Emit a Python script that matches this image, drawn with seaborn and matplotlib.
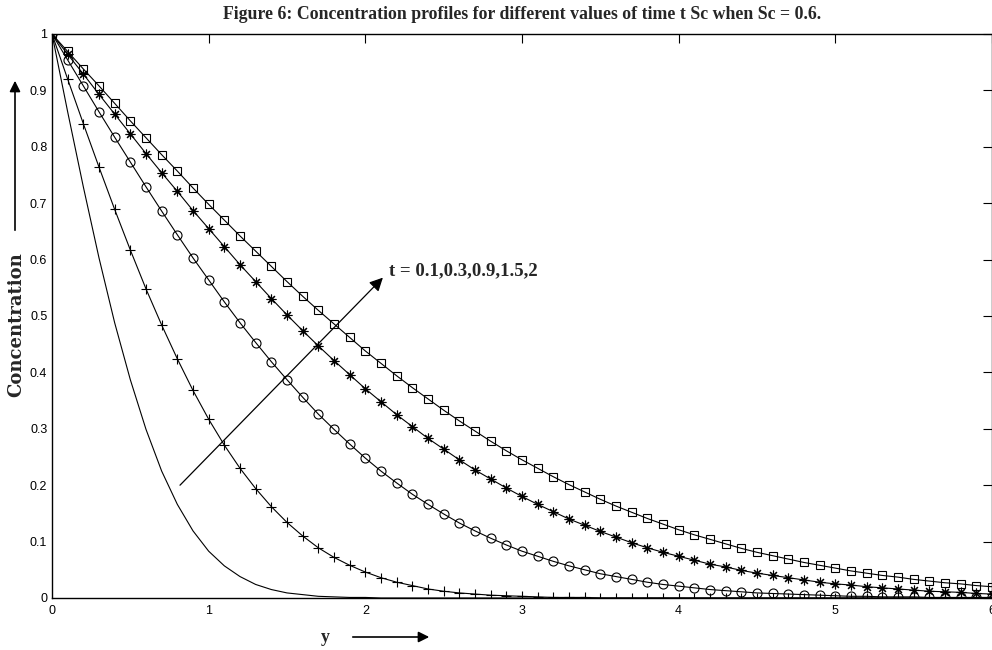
import numpy as np
import pandas as pd
import matplotlib
matplotlib.use("Agg")
import matplotlib.pyplot as plt
import seaborn as sns

# ---------------- data ----------------
y_grid = np.linspace(0, 6, 61)

conc_t01 = [1.000, 0.862, 0.729, 0.603, 0.488, 0.387, 0.299, 0.225, 0.166, 0.119,
            0.083, 0.057, 0.038, 0.024, 0.015, 0.009, 0.006, 0.003, 0.002, 0.001,
            0.001, 0.000, 0.000, 0.000, 0.000, 0.000, 0.000, 0.000, 0.000, 0.000,
            0.000, 0.000, 0.000, 0.000, 0.000, 0.000, 0.000, 0.000, 0.000, 0.000,
            0.000, 0.000, 0.000, 0.000, 0.000, 0.000, 0.000, 0.000, 0.000, 0.000,
            0.000, 0.000, 0.000, 0.000, 0.000, 0.000, 0.000, 0.000, 0.000, 0.000,
            0.000]

conc_t03 = [1.000, 0.920, 0.841, 0.764, 0.689, 0.617, 0.548, 0.484, 0.424, 0.368,
            0.317, 0.271, 0.230, 0.194, 0.162, 0.134, 0.110, 0.089, 0.072, 0.058,
            0.046, 0.036, 0.028, 0.022, 0.016, 0.012, 0.009, 0.007, 0.005, 0.004,
            0.003, 0.002, 0.001, 0.001, 0.001, 0.000, 0.000, 0.000, 0.000, 0.000,
            0.000, 0.000, 0.000, 0.000, 0.000, 0.000, 0.000, 0.000, 0.000, 0.000,
            0.000, 0.000, 0.000, 0.000, 0.000, 0.000, 0.000, 0.000, 0.000, 0.000,
            0.000]

conc_t09 = [1.000, 0.954, 0.908, 0.862, 0.817, 0.773, 0.729, 0.686, 0.644, 0.603,
            0.564, 0.525, 0.488, 0.453, 0.419, 0.387, 0.356, 0.326, 0.299, 0.273,
            0.248, 0.225, 0.204, 0.184, 0.166, 0.149, 0.133, 0.119, 0.106, 0.094,
            0.083, 0.074, 0.065, 0.057, 0.050, 0.043, 0.038, 0.033, 0.028, 0.024,
            0.021, 0.018, 0.015, 0.013, 0.011, 0.009, 0.008, 0.007, 0.006, 0.005,
            0.004, 0.003, 0.003, 0.002, 0.002, 0.002, 0.001, 0.001, 0.001, 0.001,
            0.001]

conc_t15 = [1.000, 0.964, 0.929, 0.893, 0.858, 0.823, 0.788, 0.754, 0.721, 0.687,
            0.655, 0.623, 0.591, 0.561, 0.531, 0.502, 0.474, 0.447, 0.421, 0.396,
            0.371, 0.348, 0.325, 0.304, 0.283, 0.264, 0.245, 0.227, 0.211, 0.195,
            0.180, 0.166, 0.153, 0.140, 0.129, 0.118, 0.108, 0.098, 0.089, 0.081,
            0.074, 0.067, 0.060, 0.055, 0.049, 0.044, 0.040, 0.036, 0.032, 0.028,
            0.025, 0.023, 0.020, 0.018, 0.016, 0.014, 0.012, 0.011, 0.010, 0.008,
            0.007]

conc_t2 = [1.000, 0.969, 0.938, 0.908, 0.877, 0.846, 0.816, 0.786, 0.757, 0.727,
           0.698, 0.670, 0.642, 0.615, 0.588, 0.561, 0.535, 0.510, 0.486, 0.462,
           0.438, 0.416, 0.394, 0.373, 0.353, 0.333, 0.314, 0.296, 0.278, 0.261,
           0.245, 0.230, 0.215, 0.201, 0.188, 0.175, 0.163, 0.152, 0.141, 0.131,
           0.121, 0.112, 0.104, 0.096, 0.088, 0.081, 0.075, 0.069, 0.063, 0.058,
           0.053, 0.048, 0.044, 0.040, 0.037, 0.033, 0.030, 0.027, 0.025, 0.022,
           0.020]

x_ticks = [0, 1, 2, 3, 4, 5, 6]
x_tick_labels = ["0", "1", "2", "3", "4", "5", "6"]
y_ticks = [0, 0.1, 0.2, 0.3, 0.4, 0.5, 0.6, 0.7, 0.8, 0.9, 1.0]
y_tick_labels = ["0", "0.1", "0.2", "0.3", "0.4", "0.5", "0.6", "0.7", "0.8", "0.9", "1"]

title_text = "Figure 6: Concentration profiles for different values of time t Sc when Sc = 0.6."
ylabel_text = "Concentration"
xlabel_text = "y"
annot_text = "t = 0.1,0.3,0.9,1.5,2"

# ---------------- styling ----------------
sns.set_style("white")
plt.rcParams["font.family"] = ["Liberation Sans", "DejaVu Sans"]
plt.rcParams["xtick.direction"] = "in"
plt.rcParams["ytick.direction"] = "in"

W, H = 992, 650
fig = plt.figure(figsize=(W / 100, H / 100), dpi=100)
ax = fig.add_axes([52 / W, 1 - 598 / H, (992 - 52) / W, (598 - 34) / H])

series = [
    (conc_t01, None, 0),
    (conc_t03, "+", 7.5),
    (conc_t09, "o", 6.5),
    (conc_t15, (8, 2, 0), 7.0),
    (conc_t2, "s", 5.6),
]
for vals, mk, ms in series:
    df = pd.DataFrame({"y": y_grid, "c": vals})
    kws = dict(color="k", lw=0.8)
    if mk is not None:
        kws.update(marker=mk, ms=ms, mfc="none", mec="k", mew=0.8)
    sns.lineplot(data=df, x="y", y="c", ax=ax, legend=False, **kws)

ax.set_xlim(0, 6)
ax.set_ylim(0, 1)
ax.set_xticks(x_ticks)
ax.set_xticklabels(x_tick_labels)
ax.set_yticks(y_ticks)
ax.set_yticklabels(y_tick_labels)
ax.set_xlabel("")
ax.set_ylabel("")
ax.tick_params(axis="both", which="major", direction="in", length=6.5, width=0.8,
               colors="k", labelsize=9, top=True, right=True)
ax.tick_params(axis="y", pad=3.4)
ax.tick_params(axis="x", pad=5.3)
for sp in ax.spines.values():
    sp.set_visible(True)
    sp.set_color("k")
    sp.set_linewidth(1.0)

# internal annotation arrow
ax.annotate("", xy=(2.112, 0.568), xytext=(0.817, 0.200),
            arrowprops=dict(arrowstyle="-|>", color="k", lw=0.9,
                            mutation_scale=20, shrinkA=0, shrinkB=0))
ax.text(2.15, 0.58, annot_text, ha="left", va="center", fontsize=13.5,
        fontweight="bold", family=["Liberation Serif", "DejaVu Serif"])

# title
fig.text(522 / W, 1 - 19 / H, title_text, ha="center", va="baseline",
         fontsize=12.8, fontweight="bold", family=["Liberation Serif", "DejaVu Serif"])

# y label and arrow
fig.text(16 / W, 1 - 325 / H, ylabel_text, rotation=90, ha="center", va="center",
         fontsize=13, fontweight="bold", family=["DejaVu Serif"])
fig.add_artist(matplotlib.patches.FancyArrowPatch(
    (15 / W, 1 - 233 / H), (15 / W, 1 - 78 / H), transform=fig.transFigure,
    arrowstyle="-|>", mutation_scale=16, color="k", lw=1.2))

# x label and arrow
fig.text(325 / W, 1 - 637 / H, xlabel_text, ha="center", va="center",
         fontsize=13, fontweight="bold", family=["Liberation Serif", "DejaVu Serif"])
fig.add_artist(matplotlib.patches.FancyArrowPatch(
    (350 / W, 1 - 637 / H), (432 / W, 1 - 637 / H), transform=fig.transFigure,
    arrowstyle="-|>", mutation_scale=16, color="k", lw=1.2))

fig.savefig("out.png", dpi=100)
